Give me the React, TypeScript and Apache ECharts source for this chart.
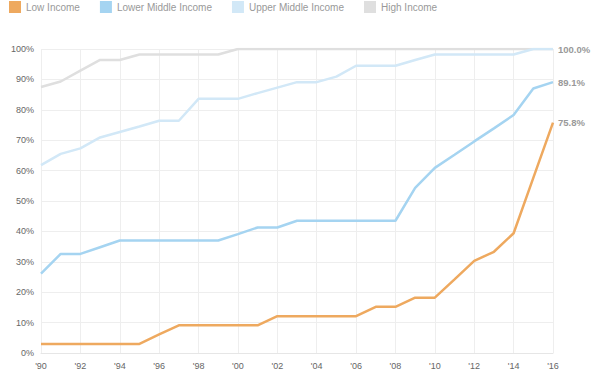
import React, { useEffect, useRef } from "react";
import * as echarts from "echarts";

const years = ["1990","1991","1992","1993","1994","1995","1996","1997","1998","1999","2000","2001","2002","2003","2004","2005","2006","2007","2008","2009","2010","2011","2012","2013","2014","2015","2016"];

const seriesNames = ["Low Income", "Lower Middle Income", "Upper Middle Income", "High Income"];

const lowIncome = [3.0,3.0,3.0,3.0,3.0,3.0,6.1,9.1,9.1,9.1,9.1,9.1,12.1,12.1,12.1,12.1,12.1,15.2,15.2,18.2,18.2,24.2,30.3,33.3,39.4,57.6,75.8];
const lowerMiddle = [26.1,32.6,32.6,34.8,37.0,37.0,37.0,37.0,37.0,37.0,39.1,41.3,41.3,43.5,43.5,43.5,43.5,43.5,43.5,54.3,60.9,65.2,69.6,73.9,78.3,87.0,89.1];
const upperMiddle = [61.8,65.5,67.3,70.9,72.7,74.5,76.4,76.4,83.6,83.6,83.6,85.5,87.3,89.1,89.1,90.9,94.5,94.5,94.5,96.4,98.2,98.2,98.2,98.2,98.2,100.0,100.0];
const highIncome = [87.5,89.3,92.9,96.4,96.4,98.2,98.2,98.2,98.2,98.2,100.0,100.0,100.0,100.0,100.0,100.0,100.0,100.0,100.0,100.0,100.0,100.0,100.0,100.0,100.0,100.0,100.0];

const colors = ["#eea95f", "#a5d4f1", "#d2e8f7", "#dfdfdf"];

export default function App() {
  const ref = useRef<HTMLDivElement>(null);
  useEffect(() => {
    if (!ref.current) return;
    const chart = echarts.init(ref.current, undefined, { renderer: "svg" });
    const font = "Helvetica Neue, Arial, Liberation Sans, sans-serif";
    const data = [lowIncome, lowerMiddle, upperMiddle, highIncome];
    const series = data.map((d, i) => ({
      name: seriesNames[i],
      type: "line",
      data: d,
      showSymbol: false,
      symbol: "none",
      z: 10 - i,
      lineStyle: { width: 2.5, color: colors[i] },
      itemStyle: { color: colors[i] },
      endLabel: {
        show: i !== 2,
        formatter: (p: any) => Number(p.value).toFixed(1) + "%",
        color: "#999",
        fontWeight: "bold",
        fontSize: 9.5,
        fontFamily: font,
        distance: 5,
      },
    }));
    chart.setOption({
      animation: false,
      textStyle: { fontFamily: font },
      color: colors,
      legend: {
        left: 9,
        top: 1,
        padding: 0,
        icon: "rect",
        itemWidth: 12,
        itemHeight: 12,
        itemGap: 20,
        textStyle: { color: "#999", fontSize: 10, fontFamily: font },
        data: seriesNames,
      },
      grid: { left: 41, right: 47, top: 49, bottom: 13, containLabel: false },
      xAxis: {
        type: "category",
        data: years,
        boundaryGap: false,
        axisLine: { show: true, lineStyle: { color: "#e6e6e6" } },
        axisTick: { show: false },
        axisLabel: {
          interval: 1,
          color: "#666",
          fontSize: 9,
          margin: 8,
          formatter: (v: string) => "'" + v.slice(2),
        },
        splitLine: { show: true, interval: 1, lineStyle: { color: "#eeeeee" } },
      },
      yAxis: {
        type: "value",
        min: 0,
        max: 100,
        interval: 10,
        axisLine: { show: false },
        axisTick: { show: false },
        axisLabel: { color: "#666", fontSize: 9, margin: 7, formatter: "{value}%" },
        splitLine: { show: true, lineStyle: { color: "#eeeeee" } },
      },
      series,
    });
    return () => chart.dispose();
  }, []);
  return <div ref={ref} style={{ width: 600, height: 370, position: "absolute", left: 0, top: 0 }} />;
}
